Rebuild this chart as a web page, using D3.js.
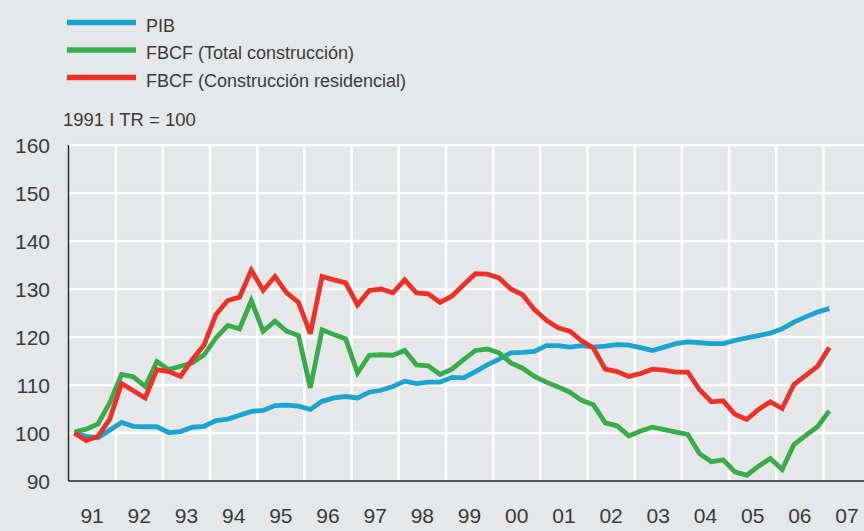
<!DOCTYPE html>
<html>
<head>
<meta charset="utf-8">
<script src="https://cdn.jsdelivr.net/npm/d3@7"></script>
<style>
  html, body { margin: 0; padding: 0; background: #e6e7e8; }
  svg { display: block; font-family: "Liberation Sans", Arial, sans-serif; }
</style>
</head>
<body>
<div id="chart"></div>
<script>
// quarterly series, 1991 I TR = 100, from 1991 Q1 to 2007 Q1
const startYear = 1991;
const pib = [
  100.0, 99.3, 99.0, 100.6, 102.2, 101.4, 101.3, 101.3, 100.1, 100.3,
  101.2, 101.4, 102.6, 102.9, 103.7, 104.5, 104.7, 105.7, 105.8, 105.6,
  104.9, 106.6, 107.3, 107.6, 107.3, 108.5, 108.9, 109.7, 110.8, 110.3,
  110.6, 110.6, 111.6, 111.5, 112.8, 114.2, 115.4, 116.7, 116.8, 117.0,
  118.2, 118.2, 117.9, 118.2, 117.9, 118.1, 118.4, 118.3, 117.8, 117.2,
  117.9, 118.6, 119.0, 118.8, 118.6, 118.6, 119.3, 119.8, 120.3, 120.8,
  121.7, 123.1, 124.2, 125.2, 125.9
];
const fbcfTotal = [
  100.2, 100.8, 101.9, 106.3, 112.2, 111.7, 109.7, 114.9, 113.2, 113.9,
  114.6, 116.3, 119.8, 122.4, 121.7, 127.6, 121.2, 123.3, 121.2, 120.3,
  109.4, 121.5, 120.5, 119.6, 112.5, 116.2, 116.3, 116.2, 117.2, 114.2,
  114.0, 112.2, 113.3, 115.3, 117.2, 117.5, 116.7, 114.6, 113.5, 111.8,
  110.6, 109.6, 108.5, 106.8, 105.9, 102.1, 101.5, 99.4, 100.4, 101.2,
  100.7, 100.2, 99.7, 95.7, 94.0, 94.4, 91.9, 91.2, 93.1, 94.7,
  92.4, 97.6, 99.5, 101.3, 104.6
];
const fbcfResid = [
  100.0, 98.4, 99.3, 102.9, 110.3, 108.8, 107.3, 113.2, 112.8, 111.8,
  115.3, 118.4, 124.7, 127.6, 128.3, 133.9, 129.7, 132.6, 129.2, 127.2,
  120.7, 132.6, 131.9, 131.3, 126.7, 129.7, 130.0, 129.2, 131.9, 129.2,
  129.0, 127.2, 128.5, 130.9, 133.2, 133.1, 132.3, 130.0, 128.8, 125.7,
  123.5, 121.9, 121.2, 119.2, 117.7, 113.3, 112.8, 111.8, 112.4, 113.3,
  113.1, 112.7, 112.7, 109.0, 106.5, 106.7, 103.9, 102.8, 104.9, 106.5,
  105.1, 110.1, 112.0, 113.9, 117.8
];
const yearLabels = ["91","92","93","94","95","96","97","98","99","00","01","02","03","04","05","06","07"];
const yTicks = [90, 100, 110, 120, 130, 140, 150, 160];
const seriesNames = ["PIB", "FBCF (Total construcción)", "FBCF (Construcción residencial)"];
const seriesColors = ["#1aa5d0", "#37ac49", "#ee3126"];

const width = 864;
const height = 531;
const plot = { left: 68.5, right: 864, top: 145, bottom: 481 };
const textColor = "#3a3a3a";

const svg = d3.select("#chart")
  .append("svg")
  .attr("width", width)
  .attr("height", height);

svg.append("rect").attr("width", width).attr("height", height).attr("fill", "#e6e7e8");

const x = d3.scaleLinear().domain([startYear, 2007.86]).range([plot.left, plot.right]);
const y = d3.scaleLinear().domain([90, 160]).range([plot.bottom, plot.top]);

// grid
const grid = svg.append("g").attr("class", "grid");
grid.selectAll("line.h")
  .data(yTicks.filter((d) => d > 90))
  .join("line")
  .attr("class", "h")
  .attr("x1", plot.left).attr("x2", plot.right)
  .attr("y1", (d) => y(d)).attr("y2", (d) => y(d))
  .attr("stroke", "#fff").attr("stroke-width", 2.6);

grid.selectAll("line.v")
  .data(d3.range(1992, 2008))
  .join("line")
  .attr("class", "v")
  .attr("x1", (d) => x(d)).attr("x2", (d) => x(d))
  .attr("y1", plot.top).attr("y2", plot.bottom)
  .attr("stroke", "#fff").attr("stroke-width", 2.6);

// axes
svg.append("line")
  .attr("x1", plot.left).attr("x2", plot.left)
  .attr("y1", plot.top).attr("y2", plot.bottom)
  .attr("stroke", "#222").attr("stroke-width", 1.4);
svg.append("line")
  .attr("x1", plot.left).attr("x2", plot.right)
  .attr("y1", plot.bottom).attr("y2", plot.bottom)
  .attr("stroke", "#222").attr("stroke-width", 1.4);

svg.append("g")
  .selectAll("text")
  .data(yTicks)
  .join("text")
  .attr("x", 50)
  .attr("y", (d) => y(d))
  .attr("dy", "0.36em")
  .attr("text-anchor", "end")
  .attr("font-size", 21)
  .attr("fill", textColor)
  .text((d) => d);

svg.append("g")
  .selectAll("text")
  .data(yearLabels)
  .join("text")
  .attr("x", (d, i) => x(startYear + i + 0.5))
  .attr("y", 523)
  .attr("text-anchor", "middle")
  .attr("font-size", 21)
  .attr("fill", textColor)
  .text((d) => d);

// lines
const line = d3.line()
  .x((d, i) => x(startYear + (i + 0.5) / 4))
  .y((d) => y(d));

const series = [pib, fbcfTotal, fbcfResid];
svg.append("g")
  .selectAll("path")
  .data(series)
  .join("path")
  .attr("d", line)
  .attr("fill", "none")
  .attr("stroke", (d, i) => seriesColors[i])
  .attr("stroke-width", 4.8)
  .attr("stroke-linejoin", "miter")
  .attr("stroke-miterlimit", 3);

// legend
const legend = svg.append("g").attr("class", "legend");
const legendY = [22.5, 50, 77.5];
seriesNames.forEach((name, i) => {
  legend.append("line")
    .attr("x1", 67).attr("x2", 136)
    .attr("y1", legendY[i]).attr("y2", legendY[i])
    .attr("stroke", seriesColors[i]).attr("stroke-width", 5.5);
  legend.append("text")
    .attr("x", 146)
    .attr("y", legendY[i] + 9)
    .attr("font-size", 18)
    .attr("fill", textColor)
    .text(name);
});

svg.append("text")
  .attr("x", 63)
  .attr("y", 126)
  .attr("font-size", 18.5)
  .attr("fill", textColor)
  .text("1991 I TR = 100");
</script>
</body>
</html>
